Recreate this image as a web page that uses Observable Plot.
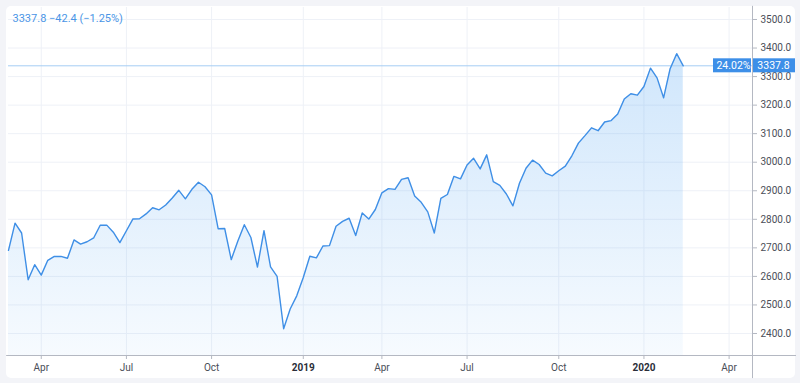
<!DOCTYPE html>
<html><head><meta charset="utf-8">
<script src="https://cdn.jsdelivr.net/npm/d3@7"></script>
<script src="https://cdn.jsdelivr.net/npm/@observablehq/plot@0.6"></script>
<style>
html,body{margin:0;padding:0;background:#f3f4f8;width:800px;height:383px;overflow:hidden}
#card{position:absolute;left:6px;top:6px;width:789px;height:372px;background:#fff;border-radius:5px}
#chart{position:absolute;left:0;top:0}
</style></head><body><div id="card"></div><div id="chart"></div>
<script>
// Weekly closes (week ending dates)
const dates = [
"2018-03-02","2018-03-09","2018-03-16","2018-03-23","2018-03-30","2018-04-06","2018-04-13","2018-04-20","2018-04-27",
"2018-05-04","2018-05-11","2018-05-18","2018-05-25","2018-06-01","2018-06-08","2018-06-15","2018-06-22","2018-06-29",
"2018-07-06","2018-07-13","2018-07-20","2018-07-27","2018-08-03","2018-08-10","2018-08-17","2018-08-24","2018-08-31",
"2018-09-07","2018-09-14","2018-09-21","2018-09-28","2018-10-05","2018-10-12","2018-10-19","2018-10-26","2018-11-02",
"2018-11-09","2018-11-16","2018-11-23","2018-11-30","2018-12-07","2018-12-14","2018-12-21","2018-12-28",
"2019-01-04","2019-01-11","2019-01-18","2019-01-25","2019-02-01","2019-02-08","2019-02-15","2019-02-22","2019-03-01",
"2019-03-08","2019-03-15","2019-03-22","2019-03-29","2019-04-05","2019-04-12","2019-04-19","2019-04-26","2019-05-03",
"2019-05-10","2019-05-17","2019-05-24","2019-05-31","2019-06-07","2019-06-14","2019-06-21","2019-06-28","2019-07-05",
"2019-07-12","2019-07-19","2019-07-26","2019-08-02","2019-08-09","2019-08-16","2019-08-23","2019-08-30","2019-09-06",
"2019-09-13","2019-09-20","2019-09-27","2019-10-04","2019-10-11","2019-10-18","2019-10-25","2019-11-01","2019-11-08",
"2019-11-15","2019-11-22","2019-11-29","2019-12-06","2019-12-13","2019-12-20","2019-12-27",
"2020-01-03","2020-01-10","2020-01-17","2020-01-24","2020-01-31","2020-02-07","2020-02-14","2020-02-21"
];
const closes = [
2691.25,2786.57,2752.01,2588.26,2640.87,2604.47,2656.30,2670.14,2669.91,
2663.42,2727.72,2712.97,2721.33,2734.62,2779.03,2779.66,2754.88,2718.37,
2759.82,2801.31,2801.83,2818.82,2840.35,2833.28,2850.13,2874.69,2901.52,
2871.68,2904.98,2929.67,2913.98,2885.57,2767.13,2767.78,2658.69,2723.06,
2781.01,2736.27,2632.56,2760.17,2633.08,2599.95,2416.62,2485.74,
2531.94,2596.26,2670.71,2664.76,2706.53,2707.88,2775.60,2792.67,2803.69,
2743.07,2822.48,2800.71,2834.40,2892.74,2907.41,2905.03,2939.88,2945.64,
2881.40,2859.53,2826.06,2752.06,2873.34,2886.98,2950.46,2941.76,2990.41,
3013.77,2976.61,3025.86,2932.05,2918.65,2888.68,2847.11,2926.46,2978.71,
3007.39,2992.07,2961.79,2952.01,2970.27,2986.20,3022.55,3066.91,3093.08,
3120.46,3110.29,3140.98,3145.91,3168.80,3221.22,3240.02,
3234.85,3265.35,3329.62,3295.47,3225.52,3327.71,3380.16,3337.75
];
const yTicks = [2400,2500,2600,2700,2800,2900,3000,3100,3200,3300,3400,3500];
const xTickDates = ["2018-04-06","2018-07-06","2018-10-05","2019-01-11","2019-04-05","2019-07-05","2019-10-11","2020-01-10","2020-04-10"];
const xTickLabels = ["Apr","Jul","Oct","2019","Apr","Jul","Oct","2020","Apr"];
const yearLabels = ["2019","2020"];

const data = dates.map((d, i) => ({date: new Date(d), close: closes[i]}));
const last = closes[closes.length - 1];
const prev = closes[closes.length - 2];
const first = closes[0];
const sign = v => (v < 0 ? "\u2212" : "+");
const change = last - prev;
const pct = change / prev * 100;
const headerText = `${last.toFixed(1)} ${sign(change)}${Math.abs(change).toFixed(1)} (${sign(pct)}${Math.abs(pct).toFixed(2)}%)`;
const pctFromStart = ((last / first - 1) * 100).toFixed(2) + "%";
const lastLabel = last.toFixed(1);

const xDomain = [new Date("2018-03-02"), new Date("2020-05-05")];
const yDomain = [2322.9, 3542];
const ticks = xTickDates.map((d, i) => ({date: new Date(d), label: xTickLabels[i]}));
const labelOf = new Map(ticks.map(t => [+t.date, t.label]));
const monthTicks = ticks.filter(t => !yearLabels.includes(t.label)).map(t => t.date);
const yearTicks = ticks.filter(t => yearLabels.includes(t.label)).map(t => t.date);

const axisGray = "#b4b8c2";
const plot = Plot.plot({
  width: 800,
  height: 383,
  marginLeft: 8,
  marginRight: 48,
  marginTop: 7,
  marginBottom: 28,
  style: {fontFamily: "Roboto, sans-serif", fontSize: "10px", color: "#4a4e58", background: "transparent", overflow: "visible"},
  x: {type: "utc", domain: xDomain},
  y: {domain: yDomain},
  marks: [
    Plot.gridX(ticks.map(t => t.date), {stroke: "#eef1f7", strokeOpacity: 1}),
    Plot.gridY(yTicks, {stroke: "#eef1f7", strokeOpacity: 1}),
    Plot.areaY(data, {x: "date", y1: yDomain[0], y2: "close", fill: "url(#areaGrad)"}),
    Plot.ruleY([last], {stroke: "#a6cdf4", strokeWidth: 1}),
    Plot.lineY(data, {x: "date", y: "close", stroke: "#3f8fe6", strokeWidth: 1.4}),
    Plot.ruleY([yDomain[0]], {x1: new Date("2018-02-28"), x2: new Date("2020-06-21"), stroke: axisGray}),
    Plot.ruleX([xDomain[1]], {y1: 2242, y2: 3546, stroke: axisGray}),
    Plot.axisY({anchor: "right", label: null, ticks: yTicks, tickFormat: d => d.toFixed(1), tickSize: 4, tickPadding: 4, stroke: axisGray, fill: "#4a4e58"}),
    Plot.axisX({label: null, ticks: monthTicks, tickFormat: d => labelOf.get(+d), tickSize: 4, tickPadding: 4, stroke: axisGray, fill: "#4a4e58"}),
    Plot.axisX({label: null, ticks: yearTicks, tickFormat: d => labelOf.get(+d), tickSize: 4, tickPadding: 4, stroke: axisGray, fill: "#2a2e39", fontWeight: "bold"}),
    Plot.text([headerText], {frameAnchor: "top-left", dx: 4, dy: 7, text: d => d, fill: "#4a95e6", fontSize: 11}),
    Plot.text([pctFromStart], {frameAnchor: "right", y: () => last, text: d => d, dx: -19, textAnchor: "middle", fill: "#fff", fontSize: 10.5}),
    Plot.text([lastLabel], {frameAnchor: "right", y: () => last, text: d => d, dx: 21, textAnchor: "middle", fill: "#fff", fontSize: 10.5})
  ]
});

const svg = d3.select(plot);
svg.insert("defs", ":first-child").html(
  `<linearGradient id="areaGrad" gradientUnits="userSpaceOnUse" x1="0" y1="7" x2="0" y2="355">
     <stop offset="0" stop-color="#2a8ff0" stop-opacity="0.25"/>
     <stop offset="1" stop-color="#2a8ff0" stop-opacity="0.04"/>
   </linearGradient>`);
const yPix = plot.scale("y").apply(last);
const xr = plot.scale("x").range[1];
// find the top-level group holding the percentage label
let anchor = svg.selectAll("text").filter(function() { return this.textContent === pctFromStart; }).node();
while (anchor && anchor.parentNode !== plot) anchor = anchor.parentNode;
[[xr - 39, 38], [xr + 1, 42]].forEach(([x, w]) => {
  const r = document.createElementNS("http://www.w3.org/2000/svg", "rect");
  plot.insertBefore(r, anchor);
  d3.select(r).attr("x", x).attr("y", yPix - 7).attr("width", w).attr("height", 14).attr("fill", "#3d8fe8");
});
document.getElementById("chart").appendChild(plot);
</script>
</body></html>
